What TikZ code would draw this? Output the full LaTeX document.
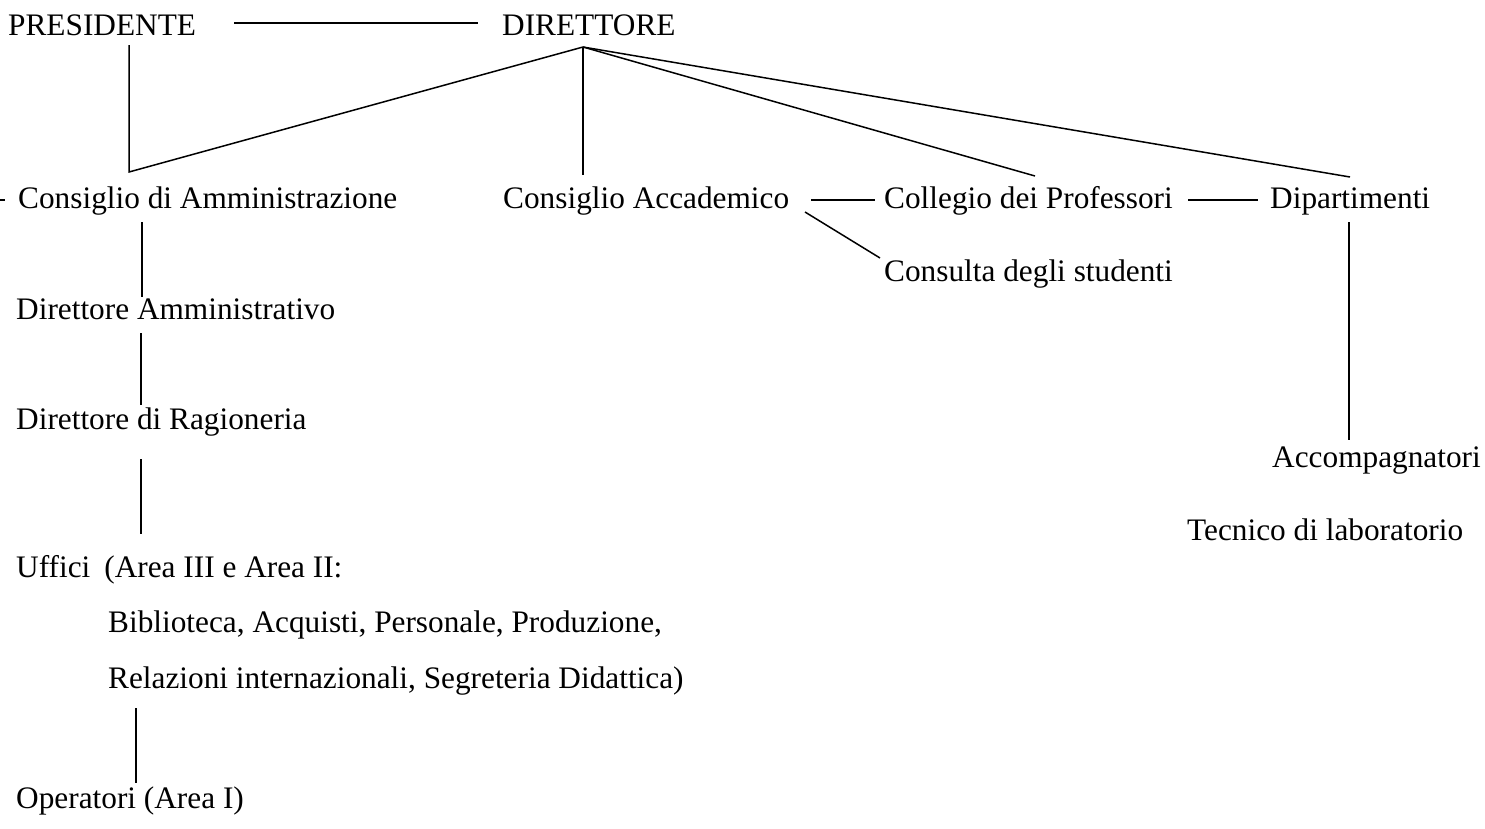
\documentclass[tikz,border=0pt]{standalone}
\usepackage{fontspec}
\setmainfont{Liberation Serif}
\begin{document}
\begin{tikzpicture}[x=1pt,y=-1pt,
  lbl/.style={anchor=base west,inner sep=0pt,font=\fontsize{31.3}{38}\selectfont},
  conn/.style={line width=1.5pt,line cap=butt}]
\useasboundingbox (0,0) rectangle (1485,828);
% texts
\node[lbl] (pres) at (8,35) {PRESIDENTE};
\node[lbl] (dir) at (502,35) {DIRETTORE};
\node[lbl] (cda) at (18,208) {Consiglio di Amministrazione};
\node[lbl] (acc) at (503,208) {Consiglio Accademico};
\node[lbl] (coll) at (884,208) {Collegio dei Professori};
\node[lbl] (dip) at (1270,208) {Dipartimenti};
\node[lbl] (cons) at (884,281) {Consulta degli studenti};
\node[lbl] (damm) at (16,319) {Direttore Amministrativo};
\node[lbl] (drag) at (16,429) {Direttore di Ragioneria};
\node[lbl] (accomp) at (1272,467) {Accompagnatori};
\node[lbl] (tec) at (1187,540) {Tecnico di laboratorio};
\node[lbl] (uff) at (16,577) {Uffici\hspace{14pt}(Area III e Area II:};
\node[lbl] (bib) at (108,632) {Biblioteca, Acquisti, Personale, Produzione,};
\node[lbl] (rel) at (108,688) {Relazioni internazionali, Segreteria Didattica)};
\node[lbl] (oper) at (16,808) {Operatori (Area I)};
% connector ends
\coordinate (presR) at (234,23);
\coordinate (dirL) at (478,23);
\coordinate (presB) at (129,45);
\coordinate (cdaT) at (129,172);
\coordinate (dirB) at (583,47);
\coordinate (accT) at (583,175);
\coordinate (collT) at (1035,176);
\coordinate (dipT) at (1350,177);
\coordinate (accR) at (811,200);
\coordinate (collL) at (875,200);
\coordinate (collR) at (1188,200);
\coordinate (dipL) at (1258,200);
\coordinate (accRB) at (805,212);
\coordinate (consL) at (880,258);
\coordinate (dipB) at (1349,222);
\coordinate (accompT) at (1349,440);
\coordinate (cdaB) at (142,222);
\coordinate (dammT) at (142,297);
\coordinate (dammB) at (141,333);
\coordinate (dragT) at (141,405);
\coordinate (dragB) at (141,459);
\coordinate (uffT) at (141,534);
\coordinate (relB) at (136,708);
\coordinate (operT) at (136,783);
\coordinate (cdaL) at (5,200);
\coordinate (edgeL) at (0,200);
% connectors
\draw[conn] (presR) -- (dirL);
\draw[conn] (presB) -- (cdaT) -- (dirB);
\draw[conn] (dirB) -- (accT);
\draw[conn] (dirB) -- (collT);
\draw[conn] (dirB) -- (dipT);
\draw[conn] (accR) -- (collL);
\draw[conn] (collR) -- (dipL);
\draw[conn] (accRB) -- (consL);
\draw[conn] (dipB) -- (accompT);
\draw[conn] (cdaB) -- (dammT);
\draw[conn] (dammB) -- (dragT);
\draw[conn] (dragB) -- (uffT);
\draw[conn] (relB) -- (operT);
\draw[conn] (edgeL) -- (cdaL);
\end{tikzpicture}
\end{document}
